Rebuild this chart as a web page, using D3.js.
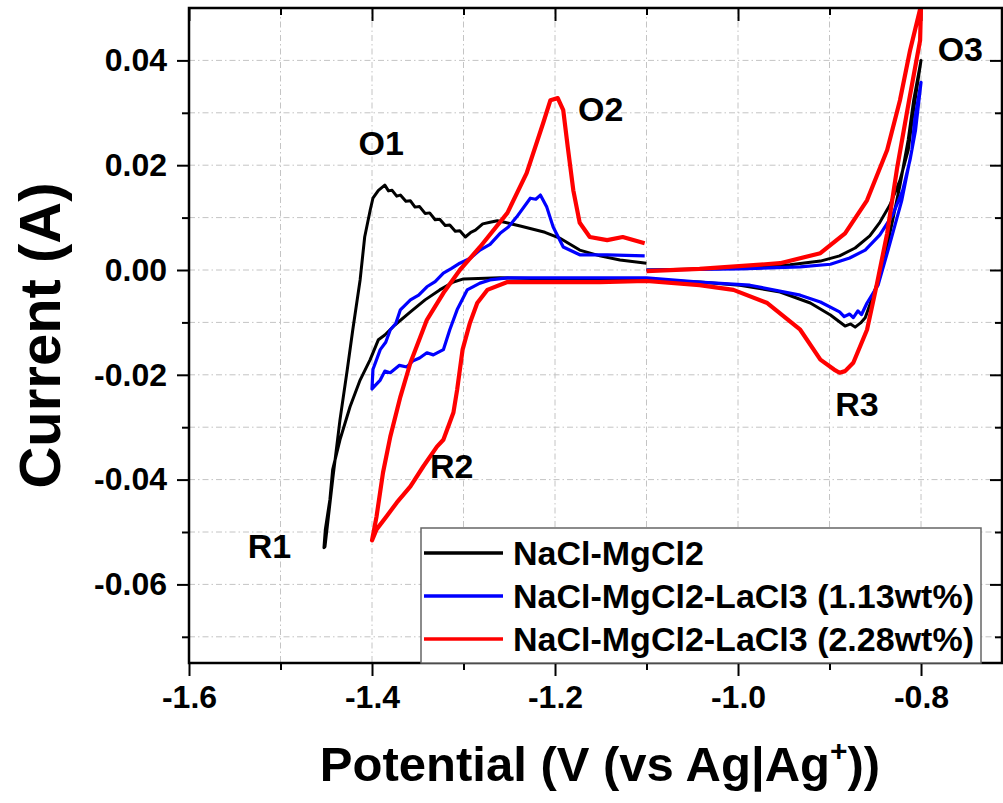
<!DOCTYPE html>
<html>
<head>
<meta charset="utf-8">
<script src="https://cdn.jsdelivr.net/npm/d3@7"></script>
<style>
  body { margin: 0; background: #fff; }
  svg { display: block; font-family: "Liberation Sans", Arial, sans-serif; }
</style>
</head>
<body>
<svg id="chart" width="1003" height="803"></svg>
<script>
// CV scans, [potential V, current A], in scan order
const scanNaClMgCl2 = [
  [-1.1, 0], [-1.042, 0.0002], [-0.987, 0.0004], [-0.943, 0.001], [-0.91, 0.0017], [-0.889, 0.0027],
  [-0.872, 0.0042], [-0.856, 0.0065], [-0.845, 0.0091], [-0.834, 0.0124], [-0.823, 0.0171],
  [-0.814, 0.0229], [-0.809, 0.0295], [-0.8, 0.04],
  [-0.808, 0.0324], [-0.814, 0.0248], [-0.823, 0.0162], [-0.831, 0.0095], [-0.838, 0.0038],
  [-0.845, -0.001], [-0.854, -0.0057], [-0.861, -0.0091], [-0.866, -0.0101], [-0.872, -0.0109],
  [-0.877, -0.0103], [-0.883, -0.0107], [-0.899, -0.0086], [-0.921, -0.0063], [-0.954, -0.0042],
  [-0.998, -0.0029], [-1.042, -0.0023], [-1.1, -0.0019], [-1.2, -0.0017], [-1.26, -0.0015],
  [-1.3, -0.0017], [-1.311, -0.0023], [-1.326, -0.0038], [-1.342, -0.0057], [-1.358, -0.008],
  [-1.375, -0.0105], [-1.386, -0.0124], [-1.393, -0.0133], [-1.402, -0.0171], [-1.413, -0.021],
  [-1.424, -0.0261], [-1.435, -0.0324], [-1.443, -0.0381], [-1.446, -0.0438], [-1.451, -0.0495],
  [-1.4525, -0.053],
  [-1.4514, -0.0528], [-1.443, -0.04], [-1.435, -0.0286], [-1.427, -0.019], [-1.421, -0.0114],
  [-1.413, -0.0019], [-1.408, 0.0063], [-1.402, 0.0114], [-1.399, 0.0137], [-1.393, 0.0152],
  [-1.386, 0.0162], [-1.382, 0.0151], [-1.378, 0.0152], [-1.373, 0.0141], [-1.369, 0.0143],
  [-1.363, 0.0131], [-1.358, 0.0132], [-1.353, 0.012], [-1.348, 0.0121], [-1.342, 0.0108],
  [-1.337, 0.0109], [-1.331, 0.0096], [-1.326, 0.0097], [-1.32, 0.0085], [-1.315, 0.0086],
  [-1.309, 0.0074], [-1.304, 0.0075], [-1.298, 0.0063], [-1.292, 0.0072], [-1.287, 0.0076],
  [-1.279, 0.0088], [-1.271, 0.0091], [-1.263, 0.0094], [-1.255, 0.0091], [-1.238, 0.0084],
  [-1.211, 0.0072], [-1.195, 0.0061], [-1.173, 0.0038], [-1.151, 0.0027], [-1.129, 0.0019],
  [-1.1, 0.0013]
];

const scanLaCl3Low = [
  [-1.1, 0], [-0.998, 0.0002], [-0.932, 0.0006], [-0.899, 0.0011], [-0.878, 0.0023],
  [-0.861, 0.0038], [-0.845, 0.0067], [-0.831, 0.0105], [-0.82, 0.0152], [-0.812, 0.021],
  [-0.806, 0.0267], [-0.8, 0.0358],
  [-0.807, 0.0286], [-0.81, 0.0229], [-0.821, 0.0133], [-0.836, 0.0038], [-0.847, -0.0029],
  [-0.859, -0.0063], [-0.865, -0.0085], [-0.869, -0.0078], [-0.874, -0.0091], [-0.878, -0.0084],
  [-0.884, -0.0089], [-0.889, -0.008], [-0.91, -0.0061], [-0.932, -0.0048], [-0.987, -0.0029],
  [-1.042, -0.0023], [-1.1, -0.0015], [-1.151, -0.0015], [-1.252, -0.0015], [-1.271, -0.0019],
  [-1.282, -0.0025], [-1.296, -0.0038], [-1.307, -0.0076], [-1.315, -0.0114], [-1.322, -0.0152],
  [-1.333, -0.0162], [-1.34, -0.0158], [-1.348, -0.0168], [-1.355, -0.0173], [-1.362, -0.0185],
  [-1.37, -0.0182], [-1.38, -0.0196], [-1.386, -0.0193], [-1.391, -0.021], [-1.4, -0.0227],
  [-1.399, -0.019], [-1.391, -0.0152], [-1.385, -0.0138], [-1.38, -0.0114], [-1.374, -0.0102],
  [-1.369, -0.0076], [-1.358, -0.0057], [-1.349, -0.0048], [-1.34, -0.0032], [-1.331, -0.0022],
  [-1.322, -0.0006], [-1.313, 0.0003], [-1.304, 0.0013], [-1.293, 0.0022], [-1.282, 0.0038],
  [-1.271, 0.0049], [-1.26, 0.007], [-1.251, 0.0082], [-1.242, 0.0101], [-1.227, 0.0137],
  [-1.221, 0.0135], [-1.216, 0.0143], [-1.209, 0.012], [-1.202, 0.0082], [-1.191, 0.0044],
  [-1.173, 0.0029], [-1.143, 0.0029], [-1.102, 0.0027]
];

const scanLaCl3High = [
  [-1.1, -0.0002], [-1.042, 0.0002], [-0.954, 0.0013], [-0.91, 0.0032], [-0.883, 0.007],
  [-0.859, 0.0133], [-0.837, 0.0229], [-0.823, 0.0324], [-0.812, 0.0419], [-0.8, 0.0505],
  [-0.801, 0.0438], [-0.813, 0.0324], [-0.826, 0.0196], [-0.837, 0.007], [-0.848, -0.0025],
  [-0.859, -0.0114], [-0.874, -0.0177], [-0.883, -0.0193], [-0.889, -0.0196], [-0.895, -0.019],
  [-0.91, -0.0171], [-0.932, -0.0114], [-0.968, -0.0063], [-1.005, -0.0038], [-1.042, -0.0029],
  [-1.1, -0.0021], [-1.151, -0.0023], [-1.252, -0.0023], [-1.274, -0.0038], [-1.285, -0.0063],
  [-1.293, -0.0101], [-1.301, -0.0152], [-1.307, -0.0229], [-1.311, -0.0272], [-1.322, -0.0324],
  [-1.329, -0.0337], [-1.344, -0.0375], [-1.358, -0.0413], [-1.373, -0.0444], [-1.384, -0.047],
  [-1.395, -0.0495], [-1.4, -0.0516],
  [-1.395, -0.047], [-1.388, -0.0387], [-1.38, -0.0318], [-1.369, -0.0242], [-1.358, -0.0177],
  [-1.34, -0.0095], [-1.322, -0.0044], [-1.304, 0], [-1.282, 0.0044], [-1.252, 0.0109],
  [-1.231, 0.0185], [-1.213, 0.028], [-1.205, 0.0324], [-1.197, 0.0328], [-1.191, 0.0305],
  [-1.186, 0.0234], [-1.18, 0.0152], [-1.173, 0.009], [-1.162, 0.0063], [-1.143, 0.0057],
  [-1.126, 0.0063], [-1.102, 0.0051]
];

const seriesNames = ["NaCl-MgCl2", "NaCl-MgCl2-LaCl3 (1.13wt%)", "NaCl-MgCl2-LaCl3 (2.28wt%)"];
const seriesColors = ["#000000", "#0000ff", "#ff0000"];
const seriesWidths = [3, 3.2, 4.2];

const xTicks = [-1.6, -1.4, -1.2, -1.0, -0.8];
const xMinorTicks = [-1.5, -1.3, -1.1, -0.9];
const yTicks = [-0.06, -0.04, -0.02, 0.0, 0.02, 0.04];
const yMinorTicks = [-0.07, -0.05, -0.03, -0.01, 0.01, 0.03];

const peakLabels = ["O1", "O2", "O3", "R1", "R2", "R3"];
const peakPos = [[-1.39, 0.022], [-1.15, 0.0285], [-0.757, 0.0398], [-1.512, -0.0549], [-1.313, -0.0397], [-0.87, -0.0279]];

const svg = d3.select("#chart");
const plotLeft = 189, plotRight = 1002, plotTop = 8, plotBottom = 663;

const x = d3.scaleLinear().domain([-1.6, -0.7115]).range([plotLeft, plotRight]);
const y = d3.scaleLinear().domain([-0.075, 0.05]).range([plotBottom, plotTop]);

// grid
const grid = svg.append("g");
grid.selectAll("line.gx")
  .data(xTicks.concat(xMinorTicks))
  .join("line")
  .attr("class", "gx")
  .attr("x1", d => x(d)).attr("x2", d => x(d))
  .attr("y1", plotTop).attr("y2", plotBottom)
  .attr("stroke", "#c4c4c4").attr("stroke-width", 1)
  .attr("stroke-dasharray", "6,3,1.5,3");
grid.selectAll("line.gy")
  .data(yTicks.concat(yMinorTicks))
  .join("line")
  .attr("class", "gy")
  .attr("x1", plotLeft).attr("x2", plotRight)
  .attr("y1", d => y(d)).attr("y2", d => y(d))
  .attr("stroke", "#c4c4c4").attr("stroke-width", 1)
  .attr("stroke-dasharray", "6,3,1.5,3");

// plain hyphen minus, like the original
const fmtX = d => d3.format(".1f")(d).replace("\u2212", "-");
const fmtY = d => d3.format(".2f")(d).replace("\u2212", "-");

// axes
function styleAxis(g) {
  g.select(".domain").remove();
  g.selectAll("line").attr("stroke", "#000").attr("stroke-width", 2);
  g.selectAll("text").attr("font-weight", "bold").attr("font-size", "32px").attr("fill", "#000");
}

svg.append("g").attr("transform", `translate(0,${plotBottom})`)
  .call(d3.axisBottom(x).tickValues(xTicks).tickFormat(fmtX).tickSize(13).tickPadding(9))
  .call(styleAxis);
svg.append("g").attr("transform", `translate(0,${plotBottom})`)
  .call(d3.axisBottom(x).tickValues(xMinorTicks).tickFormat("").tickSize(7))
  .call(styleAxis);
svg.append("g").attr("transform", `translate(0,${plotTop})`)
  .call(d3.axisBottom(x).tickValues(xTicks).tickFormat("").tickSize(13))
  .call(styleAxis);
svg.append("g").attr("transform", `translate(0,${plotTop})`)
  .call(d3.axisBottom(x).tickValues(xMinorTicks).tickFormat("").tickSize(7))
  .call(styleAxis);

svg.append("g").attr("transform", `translate(${plotLeft},0)`)
  .call(d3.axisLeft(y).tickValues(yTicks).tickFormat(fmtY).tickSize(12).tickPadding(10))
  .call(styleAxis);
svg.append("g").attr("transform", `translate(${plotLeft},0)`)
  .call(d3.axisLeft(y).tickValues(yMinorTicks).tickFormat("").tickSize(7))
  .call(styleAxis);
svg.append("g").attr("transform", `translate(${plotRight},0)`)
  .call(d3.axisLeft(y).tickValues(yTicks).tickFormat("").tickSize(12))
  .call(styleAxis);
svg.append("g").attr("transform", `translate(${plotRight},0)`)
  .call(d3.axisLeft(y).tickValues(yMinorTicks).tickFormat("").tickSize(7))
  .call(styleAxis);

// curves
svg.append("clipPath").attr("id", "plot-clip")
  .append("rect").attr("x", plotLeft).attr("y", plotTop)
  .attr("width", plotRight - plotLeft).attr("height", plotBottom - plotTop);

const line = d3.line().x(d => x(d[0])).y(d => y(d[1]));
const scans = [scanNaClMgCl2, scanLaCl3Low, scanLaCl3High];

svg.append("g").attr("clip-path", "url(#plot-clip)")
  .selectAll("path")
  .data(scans)
  .join("path")
  .attr("d", line)
  .attr("fill", "none")
  .attr("stroke", (d, i) => seriesColors[i])
  .attr("stroke-width", (d, i) => seriesWidths[i])
  .attr("stroke-linejoin", "round");

// frame
svg.append("rect")
  .attr("x", plotLeft).attr("y", plotTop)
  .attr("width", plotRight - plotLeft).attr("height", plotBottom - plotTop)
  .attr("fill", "none").attr("stroke", "#000").attr("stroke-width", 2.5);

// peak labels
svg.append("g").selectAll("text")
  .data(peakLabels)
  .join("text")
  .attr("x", (d, i) => x(peakPos[i][0]))
  .attr("y", (d, i) => y(peakPos[i][1]))
  .attr("text-anchor", "middle")
  .attr("font-weight", "bold").attr("font-size", "34px")
  .text(d => d);

// legend
const legend = svg.append("g");
legend.append("rect")
  .attr("x", 421).attr("y", 528).attr("width", 560).attr("height", plotBottom - 528)
  .attr("fill", "#fff").attr("stroke", "#666").attr("stroke-width", 1.5);
const legendRows = legend.selectAll("g.row")
  .data(seriesNames)
  .join("g")
  .attr("transform", (d, i) => `translate(424,${553 + i * 43})`);
legendRows.append("line")
  .attr("x1", 0).attr("x2", 79)
  .attr("stroke", (d, i) => seriesColors[i]).attr("stroke-width", 3.5);
legendRows.append("text")
  .attr("x", 89).attr("y", 12)
  .attr("font-weight", "bold").attr("font-size", "34px")
  .text(d => d);

// axis titles
svg.append("text")
  .attr("transform", `translate(60,${(plotTop + plotBottom) / 2}) rotate(-90)`)
  .attr("text-anchor", "middle")
  .attr("font-weight", "bold").attr("font-size", "58px")
  .text("Current (A)");

const xTitle = svg.append("text")
  .attr("x", 600).attr("y", 781)
  .attr("text-anchor", "middle")
  .attr("font-weight", "bold").attr("font-size", "49px");
xTitle.append("tspan").text("Potential (V (vs Ag|Ag");
xTitle.append("tspan").attr("font-size", "30px").attr("dy", -20).text("+");
xTitle.append("tspan").attr("dy", 20).text("))");
</script>
</body>
</html>
